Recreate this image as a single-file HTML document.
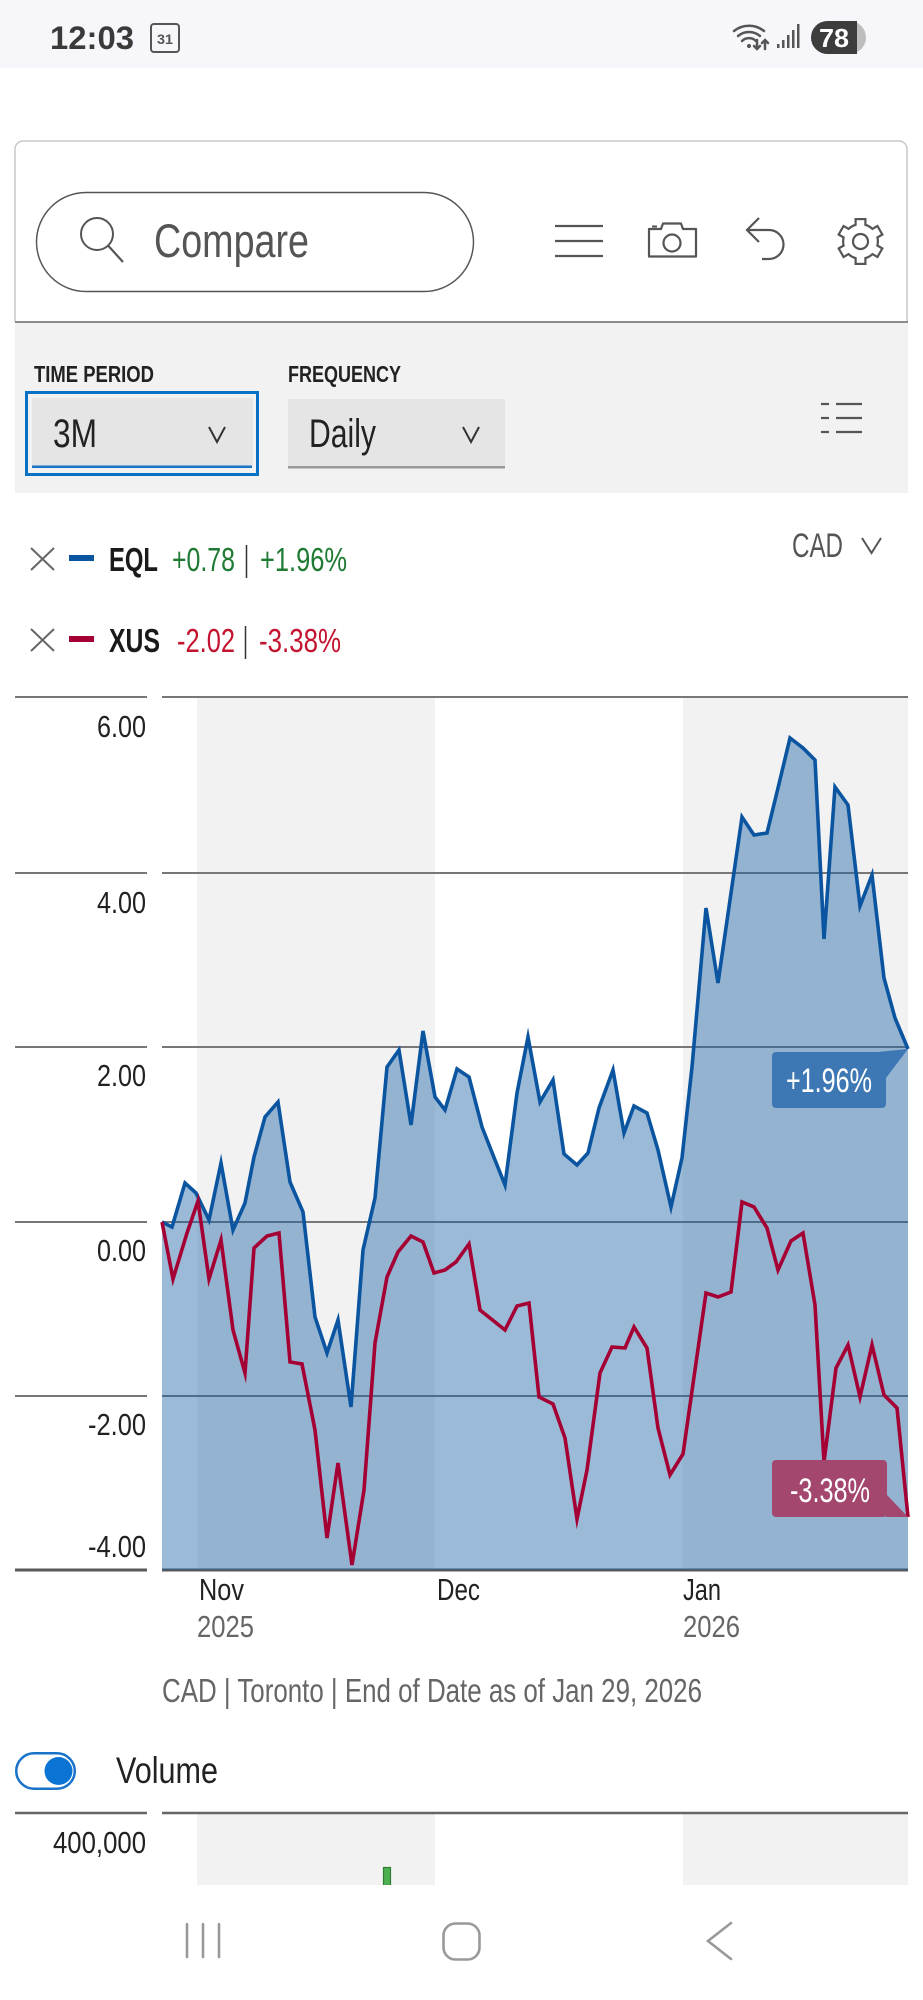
<!DOCTYPE html>
<html>
<head>
<meta charset="utf-8">
<style>
html,body{margin:0;padding:0;background:#fff;}
body{width:923px;height:2000px;overflow:hidden;position:relative;}
svg{position:absolute;left:0;top:0;display:block;}
text{font-family:"Liberation Sans",sans-serif;}
</style>
</head>
<body>
<svg width="923" height="2000" viewBox="0 0 923 2000" xmlns="http://www.w3.org/2000/svg">
  <!-- status bar -->
  <rect x="0" y="0" width="923" height="68" fill="#f7f7fb"/>
  <text x="50" y="49" font-size="32" font-weight="bold" fill="#3a3a3a" textLength="84" lengthAdjust="spacingAndGlyphs">12:03</text>
  <rect x="151" y="24" width="28" height="28" rx="3" fill="none" stroke="#555" stroke-width="2"/>
  <text x="157" y="44" font-size="14" font-weight="bold" fill="#555" textLength="16" lengthAdjust="spacingAndGlyphs">31</text>
  <!-- wifi -->
  <g fill="none" stroke="#555" stroke-width="2.5" stroke-linecap="round">
    <path d="M734,31 A24,24 0 0 1 764,31"/>
    <path d="M738,36 A17,17 0 0 1 760,36"/>
    <path d="M742,41 A10,10 0 0 1 756,41"/>
    <path d="M757,40 V49 M754,46 L757,49 L760,46"/>
    <path d="M765,49 V40 M762,43 L765,40 L768,43"/>
  </g>
  <circle cx="749" cy="46" r="2" fill="#555"/>
  <g fill="#555">
    <rect x="777" y="44" width="2.5" height="4"/>
    <rect x="782" y="40" width="2.5" height="8"/>
    <rect x="787" y="35" width="2.5" height="13"/>
    <rect x="792" y="30" width="2.5" height="18"/>
    <rect x="797" y="24" width="2.5" height="24"/>
  </g>
  <rect x="811" y="21" width="55" height="33" rx="16.5" fill="#bdbdbd"/>
  <path d="M827.5,21 H857 V54 H827.5 A16.5,16.5 0 0 1 827.5,21 Z" fill="#3d3d3d"/>
  <text x="819" y="47" font-size="26" font-weight="bold" fill="#fff" textLength="30" lengthAdjust="spacingAndGlyphs">78</text>

  <!-- card top -->
  <path d="M15,322 V149 A8,8 0 0 1 23,141 H899 A8,8 0 0 1 907,149 V322" fill="none" stroke="#c8c8c8" stroke-width="1.5"/>
  <rect x="36.5" y="192.5" width="437" height="99" rx="49.5" fill="#fff" stroke="#555" stroke-width="1.5"/>
  <circle cx="97" cy="234" r="16" fill="none" stroke="#555" stroke-width="2"/>
  <line x1="108.5" y1="246" x2="123" y2="262" stroke="#555" stroke-width="2.2"/>
  <text x="154" y="257" font-size="47" fill="#555" textLength="155" lengthAdjust="spacingAndGlyphs">Compare</text>
  <!-- hamburger -->
  <g stroke="#555" stroke-width="2.2">
    <line x1="555" y1="226" x2="603" y2="226"/>
    <line x1="555" y1="241" x2="603" y2="241"/>
    <line x1="555" y1="256" x2="603" y2="256"/>
  </g>
  <!-- camera -->
  <path d="M649,229 H661 L663,223.5 H681 L683,229 H696 V256.5 H649 Z" fill="none" stroke="#555" stroke-width="2.2" stroke-linejoin="round"/>
  <line x1="652" y1="226.5" x2="657" y2="226.5" stroke="#555" stroke-width="2"/>
  <circle cx="672" cy="243" r="8.5" fill="none" stroke="#555" stroke-width="2.2"/>
  <!-- undo -->
  <path d="M759,218 L747,230 L759,242 M747,230 H769 A14.5,14.5 0 0 1 769,259 H762" fill="none" stroke="#555" stroke-width="2.2"/>
  <!-- gear -->
  <g transform="translate(860.5,241.5)">
    <g fill="#555">
      <circle r="18.5"/>
      <rect x="-6" y="-23.5" width="12" height="9"/>
      <rect x="-6" y="-23.5" width="12" height="9" transform="rotate(60)"/>
      <rect x="-6" y="-23.5" width="12" height="9" transform="rotate(120)"/>
      <rect x="-6" y="-23.5" width="12" height="9" transform="rotate(180)"/>
      <rect x="-6" y="-23.5" width="12" height="9" transform="rotate(240)"/>
      <rect x="-6" y="-23.5" width="12" height="9" transform="rotate(300)"/>
    </g>
    <g fill="#fff">
      <circle r="16.3"/>
      <rect x="-3.8" y="-21.3" width="7.6" height="8" />
      <rect x="-3.8" y="-21.3" width="7.6" height="8" transform="rotate(60)"/>
      <rect x="-3.8" y="-21.3" width="7.6" height="8" transform="rotate(120)"/>
      <rect x="-3.8" y="-21.3" width="7.6" height="8" transform="rotate(180)"/>
      <rect x="-3.8" y="-21.3" width="7.6" height="8" transform="rotate(240)"/>
      <rect x="-3.8" y="-21.3" width="7.6" height="8" transform="rotate(300)"/>
    </g>
    <circle r="7.5" fill="none" stroke="#555" stroke-width="2.2"/>
  </g>

  <!-- gray controls section -->
  <rect x="15" y="323" width="893" height="170" fill="#f2f2f2"/>
  <line x1="15" y1="322" x2="908" y2="322" stroke="#8a8a8a" stroke-width="2"/>
  <text x="34" y="382" font-size="23" font-weight="bold" fill="#222" textLength="120" lengthAdjust="spacingAndGlyphs">TIME PERIOD</text>
  <text x="288" y="382" font-size="23" font-weight="bold" fill="#222" textLength="113" lengthAdjust="spacingAndGlyphs">FREQUENCY</text>
  <rect x="26.5" y="392.5" width="231" height="82" fill="none" stroke="#0a72c6" stroke-width="3"/>
  <rect x="32" y="398" width="221" height="70" fill="#e5e5e5"/>
  <rect x="32" y="465.5" width="220" height="2.5" fill="#1a73c8"/>
  <text x="53" y="447" font-size="40" fill="#222" textLength="44" lengthAdjust="spacingAndGlyphs">3M</text>
  <polyline points="209,427 217,442 225,427" fill="none" stroke="#333" stroke-width="2"/>
  <rect x="288" y="399" width="217" height="69" fill="#e5e5e5"/>
  <rect x="288" y="466" width="217" height="2.5" fill="#999"/>
  <text x="309" y="447" font-size="40" fill="#222" textLength="67" lengthAdjust="spacingAndGlyphs">Daily</text>
  <polyline points="463,427 471,442 479,427" fill="none" stroke="#333" stroke-width="2"/>
  <g stroke="#555" stroke-width="2.2">
    <line x1="821" y1="404" x2="829" y2="404"/><line x1="836" y1="404" x2="862" y2="404"/>
    <line x1="821" y1="418" x2="829" y2="418"/><line x1="836" y1="418" x2="862" y2="418"/>
    <line x1="821" y1="432" x2="829" y2="432"/><line x1="836" y1="432" x2="862" y2="432"/>
  </g>

  <!-- legend -->
  <g stroke="#666" stroke-width="2">
    <line x1="31" y1="548" x2="54" y2="570"/><line x1="54" y1="548" x2="31" y2="570"/>
    <line x1="31" y1="629" x2="54" y2="651"/><line x1="54" y1="629" x2="31" y2="651"/>
  </g>
  <rect x="69" y="555" width="25" height="6" fill="#0b55a0"/>
  <rect x="69" y="636" width="25" height="6" fill="#a50034"/>
  <text x="109" y="571" font-size="33" font-weight="bold" fill="#1a1a1a" textLength="49" lengthAdjust="spacingAndGlyphs">EQL</text>
  <text x="172" y="571" font-size="33" fill="#1f7a33" textLength="63" lengthAdjust="spacingAndGlyphs">+0.78</text>
  <line x1="246.5" y1="545" x2="246.5" y2="578" stroke="#333" stroke-width="1.5"/>
  <text x="260" y="571" font-size="33" fill="#1f7a33" textLength="87" lengthAdjust="spacingAndGlyphs">+1.96%</text>
  <text x="109" y="652" font-size="33" font-weight="bold" fill="#1a1a1a" textLength="51" lengthAdjust="spacingAndGlyphs">XUS</text>
  <text x="177" y="652" font-size="33" fill="#c3142f" textLength="58" lengthAdjust="spacingAndGlyphs">-2.02</text>
  <line x1="245.5" y1="626" x2="245.5" y2="659" stroke="#333" stroke-width="1.5"/>
  <text x="259" y="652" font-size="33" fill="#c3142f" textLength="82" lengthAdjust="spacingAndGlyphs">-3.38%</text>
  <text x="792" y="557" font-size="34" fill="#555" textLength="51" lengthAdjust="spacingAndGlyphs">CAD</text>
  <polyline points="862,538 871.5,553 881,538" fill="none" stroke="#555" stroke-width="2"/>

  <!-- chart bands -->
  <rect x="197" y="698" width="238" height="872" fill="#f2f2f2"/>
  <rect x="683" y="698" width="225" height="872" fill="#f2f2f2"/>
  <!-- gridlines -->
  <g stroke="#777" stroke-width="2">
    <line x1="15" y1="697" x2="147" y2="697"/><line x1="162" y1="697" x2="908" y2="697"/>
    <line x1="15" y1="873" x2="147" y2="873"/><line x1="162" y1="873" x2="908" y2="873"/>
    <line x1="15" y1="1047" x2="147" y2="1047"/><line x1="162" y1="1047" x2="908" y2="1047"/>
    <line x1="15" y1="1222" x2="147" y2="1222"/><line x1="162" y1="1222" x2="908" y2="1222"/>
    <line x1="15" y1="1396" x2="147" y2="1396"/><line x1="162" y1="1396" x2="908" y2="1396"/>
  </g>
  <g stroke="#5a5a5a" stroke-width="3">
    <line x1="15" y1="1570" x2="147" y2="1570"/><line x1="162" y1="1570" x2="908" y2="1570"/>
  </g>
  <!-- fill -->
  <polygon fill="rgba(28,98,166,0.44)" points="162,1222 172,1227 185,1183 196,1193 209,1220 221,1163 233,1230 245,1203 254,1157 265,1117 278,1102 290,1182 303,1212 315,1317 327,1353 338,1320 351,1407 363,1250 375,1198 387,1067 399,1050 411,1125 423,1031 435,1097 445,1110 457,1069 469,1077 482,1127 493,1155 505,1185 517,1093 528,1037 540,1102 553,1080 564,1154 577,1165 588,1153 599,1108 613,1070 624,1133 634,1106 647,1113 658,1150 671,1207 682,1158 692,1067 706,908 718,983 730,900 742,817 754,835 767,833 778,788 790,738 803,748 815,760 824,939 835,787 848,805 860,906 872,875 884,978 895,1018 908,1049 908,1570 162,1570"/>
  <!-- EQL line -->
  <polyline fill="none" stroke="#0b55a0" stroke-width="3.6" stroke-linejoin="miter" stroke-miterlimit="6" points="162,1222 172,1227 185,1183 196,1193 209,1220 221,1163 233,1230 245,1203 254,1157 265,1117 278,1102 290,1182 303,1212 315,1317 327,1353 338,1320 351,1407 363,1250 375,1198 387,1067 399,1050 411,1125 423,1031 435,1097 445,1110 457,1069 469,1077 482,1127 493,1155 505,1185 517,1093 528,1037 540,1102 553,1080 564,1154 577,1165 588,1153 599,1108 613,1070 624,1133 634,1106 647,1113 658,1150 671,1207 682,1158 692,1067 706,908 718,983 730,900 742,817 754,835 767,833 778,788 790,738 803,748 815,760 824,939 835,787 848,805 860,906 872,875 884,978 895,1018 908,1049"/>
  <!-- XUS line -->
  <polyline fill="none" stroke="#a50034" stroke-width="3.6" stroke-linejoin="miter" stroke-miterlimit="6" points="162,1222 173,1279 187,1233 198,1201 209,1279 221,1240 233,1330 245,1373 254,1248 267,1236 279,1233 290,1362 302,1364 315,1430 327,1538 338,1463 352,1565 364,1490 375,1343 387,1277 398,1252 411,1236 423,1242 434,1273 445,1270 456,1262 469,1244 480,1310 505,1330 517,1306 529,1303 539,1397 553,1404 565,1438 577,1519 587,1470 600,1373 612,1347 625,1348 634,1327 647,1348 658,1428 670,1475 683,1454 695,1370 706,1293 718,1297 731,1292 742,1202 754,1207 767,1228 778,1270 791,1241 803,1233 815,1305 824,1462 836,1368 848,1345 860,1397 872,1345 884,1395 897,1408 908,1517"/>
  <!-- end labels -->
  <polygon points="878,1052 908,1049 886,1078" fill="#3d78b4"/>
  <rect x="772" y="1052" width="114" height="56" rx="4" fill="#3d78b4"/>
  <text x="786" y="1092" font-size="34" fill="#fff" textLength="86" lengthAdjust="spacingAndGlyphs">+1.96%</text>
  <polygon points="886,1494 908,1517 886,1517" fill="#a3476f"/>
  <rect x="772" y="1460" width="115" height="57" rx="4" fill="#a3476f"/>
  <text x="790" y="1502" font-size="34" fill="#fff" textLength="80" lengthAdjust="spacingAndGlyphs">-3.38%</text>

  <!-- y labels -->
  <g font-size="31" fill="#222">
    <text x="97" y="737" textLength="49" lengthAdjust="spacingAndGlyphs">6.00</text>
    <text x="97" y="913" textLength="49" lengthAdjust="spacingAndGlyphs">4.00</text>
    <text x="97" y="1086" textLength="49" lengthAdjust="spacingAndGlyphs">2.00</text>
    <text x="97" y="1261" textLength="49" lengthAdjust="spacingAndGlyphs">0.00</text>
    <text x="88" y="1435" textLength="58" lengthAdjust="spacingAndGlyphs">-2.00</text>
    <text x="88" y="1557" textLength="58" lengthAdjust="spacingAndGlyphs">-4.00</text>
  </g>
  <!-- x labels -->
  <g font-size="31">
    <text x="199" y="1600" fill="#222" textLength="45" lengthAdjust="spacingAndGlyphs">Nov</text>
    <text x="197" y="1637" fill="#666" textLength="57" lengthAdjust="spacingAndGlyphs">2025</text>
    <text x="437" y="1600" fill="#222" textLength="43" lengthAdjust="spacingAndGlyphs">Dec</text>
    <text x="683" y="1600" fill="#222" textLength="38" lengthAdjust="spacingAndGlyphs">Jan</text>
    <text x="683" y="1637" fill="#666" textLength="57" lengthAdjust="spacingAndGlyphs">2026</text>
  </g>
  <text x="162" y="1702" font-size="33" fill="#666" textLength="540" lengthAdjust="spacingAndGlyphs">CAD | Toronto | End of Date as of Jan 29, 2026</text>

  <!-- volume toggle -->
  <rect x="16.25" y="1753.25" width="58.5" height="35.5" rx="17.75" fill="#fff" stroke="#1a73c8" stroke-width="2.5"/>
  <circle cx="58.5" cy="1771" r="14" fill="#0a74d4"/>
  <text x="116" y="1783" font-size="37" fill="#222" textLength="102" lengthAdjust="spacingAndGlyphs">Volume</text>

  <!-- volume chart -->
  <rect x="197" y="1814" width="238" height="71" fill="#f2f2f2"/>
  <rect x="683" y="1814" width="225" height="71" fill="#f2f2f2"/>
  <g stroke="#666" stroke-width="2.5">
    <line x1="15" y1="1813" x2="147" y2="1813"/><line x1="162" y1="1813" x2="908" y2="1813"/>
  </g>
  <text x="53" y="1853" font-size="31" fill="#222" textLength="93" lengthAdjust="spacingAndGlyphs">400,000</text>
  <rect x="383.5" y="1867.5" width="7" height="18" fill="#4caf50" stroke="#2e7d32" stroke-width="1.2"/>

  <!-- nav bar -->
  <rect x="0" y="1885" width="923" height="115" fill="#fff"/>
  <g fill="none" stroke="#999" stroke-width="2.6" stroke-linecap="round">
    <line x1="187" y1="1924" x2="187" y2="1957"/>
    <line x1="203" y1="1924" x2="203" y2="1957"/>
    <line x1="219" y1="1924" x2="219" y2="1957"/>
    <rect x="443.5" y="1923.5" width="36" height="36" rx="12"/>
    <polyline points="731,1923 708,1941 731,1959"/>
  </g>
</svg>
</body>
</html>
